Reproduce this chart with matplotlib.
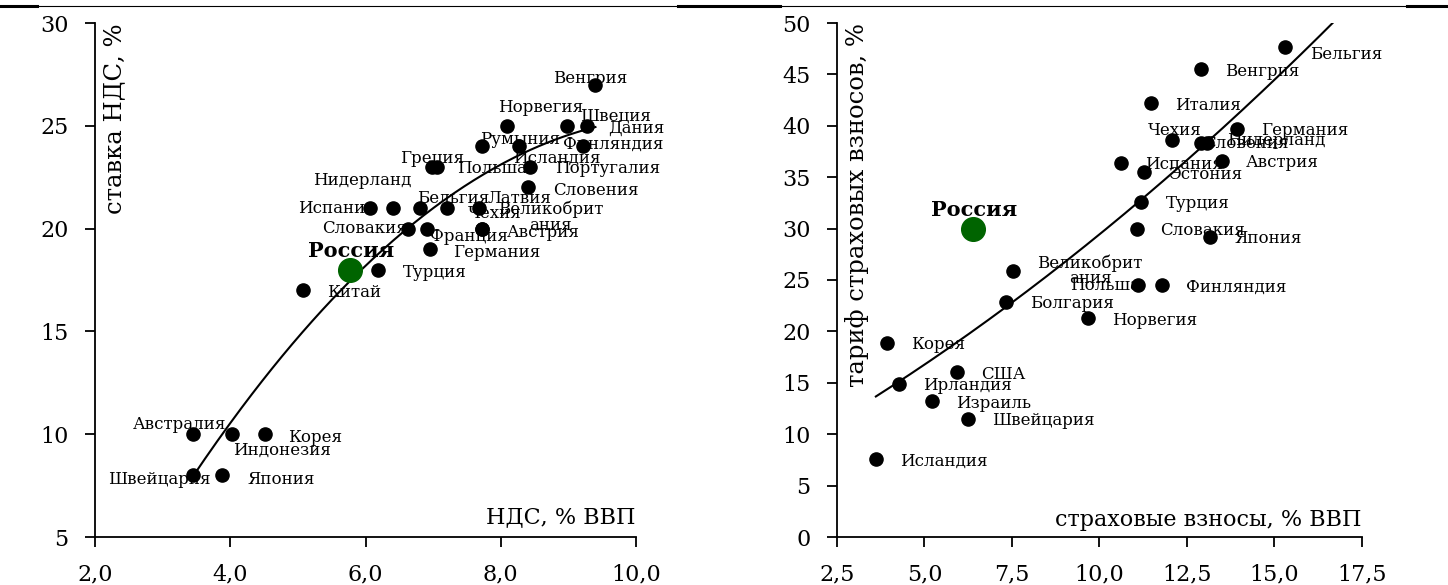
import numpy as np
import matplotlib
matplotlib.use("Agg")
from matplotlib import pyplot as plt
from matplotlib.lines import Line2D

plt.rcParams['font.family'] = ['DejaVu Serif']

# left panel: VAT revenue (% GDP) vs VAT rate (%)
vat_countries = ['Венгрия', 'Норвегия', 'Швеция', 'Дания', 'Румыния', 'Исландия',
                 'Финляндия', 'Греция', 'Польша', 'Португалия', 'Словения',
                 'Испания', 'Нидерланд', 'Бельгия', 'Латвия', 'Чехия',
                 'Великобрит\nания', 'Словакия', 'Франция', 'Австрия', 'Германия',
                 'Турция', 'Китай', 'Австралия', 'Индонезия', 'Корея',
                 'Швейцария', 'Япония']
vat_gdp = [9.40, 8.09, 8.98, 9.28, 7.72, 8.27, 9.22, 6.99, 7.06, 8.43, 8.41,
           6.07, 6.41, 6.81, 7.68, 7.21, 7.72, 6.63, 6.91, 7.72, 6.96,
           6.19, 5.08, 3.45, 4.03, 4.51, 3.45, 3.88]
vat_rate = [27, 25, 25, 25, 24, 24, 24, 23, 23, 23, 22,
            21, 21, 21, 21, 21, 20, 20, 20, 20, 19,
            18, 17, 10, 10, 10, 8, 8]
russia_vat = (5.77, 18)

# right panel: social contributions (% GDP) vs contribution rate (%)
ins_countries = ['Бельгия', 'Венгрия', 'Италия', 'Чехия', 'Словения', 'Нидерланд',
                 'Германия', 'Испания', 'Эстония', 'Австрия', 'Турция', 'Словакия',
                 'Япония', 'Финляндия', 'Польша', 'Великобрит\nания', 'Болгария',
                 'Норвегия', 'Корея', 'США', 'Ирландия', 'Израиль', 'Швейцария',
                 'Исландия']
ins_gdp = [15.3, 12.89, 11.47, 12.07, 12.89, 13.07, 13.93, 10.61, 11.27, 13.5,
           11.2, 11.06, 13.16, 11.8, 11.1, 7.53, 7.33, 9.68, 3.93, 5.93, 4.27,
           5.21, 6.24, 3.61]
ins_rate = [47.7, 45.5, 42.2, 38.6, 38.3, 38.3, 39.7, 36.4, 35.5, 36.6, 32.6,
            30.0, 29.2, 24.5, 24.5, 25.9, 22.9, 21.3, 18.9, 16.05, 14.9, 13.2,
            11.5, 7.6]
russia_ins = (6.4, 30)

# points
trend_x = [3.61, 5.73, 7.36, 11.2, 13.07, 15.79]
trend_y = [13.4, 18.5, 23.1, 32.6, 37.9, 47.4]

# label offsets in pixels (dx, dy up); default is to the right of the dot
vat_offsets = {
    'Венгрия': (-42, 6), 'Норвегия': (-9, 18), 'Швеция': (13, 10), 'Дания': (21, -3),
    'Румыния': (-2, 7), 'Исландия': (-6, -12), 'Финляндия': (-20, 2), 'Греция': (-32, 8),
    'Польша': (20, -2), 'Португалия': (25, -2), 'Словения': (25, -3),
    'Испания': (-72, 0), 'Нидерланд': (-80, 28), 'Бельгия': (-3, 10), 'Латвия': (9, 10),
    'Чехия': (20, -5), 'Словакия': (-86, 0), 'Франция': (3, -8), 'Австрия': (25, -4),
    'Германия': (23, -3), 'Турция': (25, -3), 'Китай': (24, -2), 'Австралия': (-60, 10),
    'Индонезия': (1, -16), 'Корея': (23, -3), 'Швейцария': (-85, -4), 'Япония': (25, -4),
}
vat_center = {'Великобрит\nания': (69, 11)}

ins_offsets = {
    'Чехия': (-24, 10), 'Словения': (2, 0), 'Нидерланд': (20, 3), 'Польша': (-68, 0),
    'Бельгия': (25, -8),
}
ins_center = {'Великобрит\nания': (77, 0)}


def draw(ax, names, xs, ys, russia, offsets, centered, default_off):
    ax.scatter(xs, ys, s=90, color='black', zorder=3)
    ax.scatter([russia[0]], [russia[1]], s=290, color='#006400', zorder=3)
    for n, x, y in zip(names, xs, ys):
        if n in centered:
            dx, dy = centered[n]
            ax.annotate(n, (x, y), xytext=(dx, dy), textcoords='offset pixels',
                        ha='center', va='center', fontsize=12, linespacing=0.9)
        else:
            dx, dy = offsets.get(n, default_off)
            ax.annotate(n, (x, y), xytext=(dx, dy), textcoords='offset pixels',
                        ha='left', va='center', fontsize=12)
    ax.annotate('Россия', russia, xytext=(1, 19), textcoords='offset pixels',
                ha='center', va='center', fontsize=15, fontweight='bold')
    for s in ['top', 'right']:
        ax.spines[s].set_visible(False)
    for s in ['left', 'bottom']:
        ax.spines[s].set_linewidth(1.3)
    ax.tick_params(direction='out', length=7, width=1.3, labelsize=16)
    ax.tick_params(axis='x', pad=12)
    ax.tick_params(axis='y', pad=12)


fig = plt.figure(figsize=(14.48, 5.85), dpi=100)
ax1 = fig.add_axes([95 / 1448, 48 / 585, 541 / 1448, 514 / 585])
ax2 = fig.add_axes([837 / 1448, 48 / 585, 525 / 1448, 514 / 585])

draw(ax1, vat_countries, vat_gdp, vat_rate, russia_vat, vat_offsets, vat_center, (24, -3))
c1 = np.polyfit(vat_gdp + [russia_vat[0]], vat_rate + [russia_vat[1]], 2)
t1 = np.linspace(min(vat_gdp), max(vat_gdp), 200)
ax1.plot(t1, np.polyval(c1, t1), color='black', lw=1.5, zorder=2)
ax1.set_xlim(2, 10)
ax1.set_ylim(5, 30)
ax1.set_xticks([2, 4, 6, 8, 10])
ax1.set_xticklabels(['2,0', '4,0', '6,0', '8,0', '10,0'])
ax1.set_yticks([5, 10, 15, 20, 25, 30])
ax1.text(0.015, 1.0, 'ставка НДС, %', transform=ax1.transAxes, rotation=90,
         ha='left', va='top', fontsize=17.5)
ax1.text(1.0, 0.018, 'НДС, % ВВП', transform=ax1.transAxes, ha='right',
         va='bottom', fontsize=16)

draw(ax2, ins_countries, ins_gdp, ins_rate, russia_ins, ins_offsets, ins_center, (24, -2))
c2 = np.polyfit(trend_x, trend_y, 2)
t2 = np.linspace(trend_x[0], 17.5, 200)
ax2.plot(t2, np.polyval(c2, t2), color='black', lw=1.5, zorder=2)
ax2.set_xlim(2.5, 17.5)
ax2.set_ylim(0, 50)
ax2.set_xticks([2.5, 5, 7.5, 10, 12.5, 15, 17.5])
ax2.set_xticklabels(['2,5', '5,0', '7,5', '10,0', '12,5', '15,0', '17,5'])
ax2.set_yticks(range(0, 51, 5))
ax2.text(0.015, 1.0, 'тариф страховых взносов, %', transform=ax2.transAxes,
         rotation=90, ha='left', va='top', fontsize=17.5)
ax2.text(1.0, 0.012, 'страховые взносы, % ВВП', transform=ax2.transAxes,
         ha='right', va='bottom', fontsize=16)

# rule line at the top of the page
ytop = 1 - 6 / 585
fig.add_artist(Line2D([0, 1], [ytop, ytop], transform=fig.transFigure, color='black', lw=0.8))
for a, b in [(0, 37), (678, 780), (1407, 1448)]:
    fig.add_artist(Line2D([a / 1448, b / 1448], [ytop, ytop], transform=fig.transFigure,
                          color='black', lw=2.2))

fig.savefig('out.png', dpi=100)
